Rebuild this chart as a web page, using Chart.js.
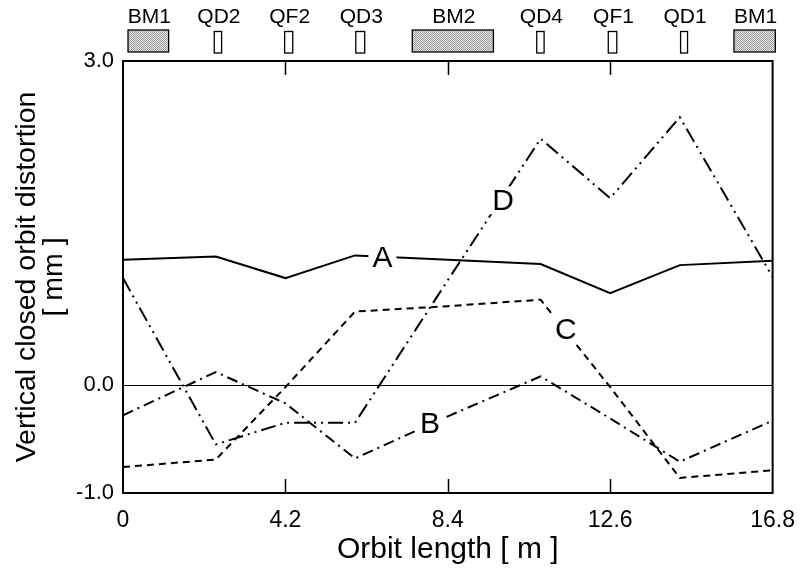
<!DOCTYPE html>
<html>
<head>
<meta charset="utf-8">
<script src="https://cdn.jsdelivr.net/npm/chart.js@4.4.0/dist/chart.umd.min.js"></script>
<style>
  html, body { margin: 0; padding: 0; background: #fff; }
  #wrap { width: 809px; height: 573px; }
</style>
</head>
<body>
<div id="wrap"><canvas id="c" width="809" height="573"></canvas></div>
<script>
// Longitudinal positions along the cell [m]
const positions = [0, 2.4, 4.2, 6.0, 8.4, 10.8, 12.6, 14.4, 16.8];

// Vertical closed orbit distortion [mm] for each case
const seriesA = [1.16, 1.19, 0.99, 1.20, 1.16, 1.12, 0.85, 1.11, 1.15];
const seriesB = [-0.28, 0.12, -0.17, -0.68, -0.29, 0.08, -0.31, -0.71, -0.33];
const seriesC = [-0.76, -0.69, -0.02, 0.68, 0.73, 0.79, -0.02, -0.86, -0.79];
const seriesD = [0.99, -0.55, -0.35, -0.35, 0.97, 2.28, 1.73, 2.48, 1.00];

// Axis ticks
const xTickValues = [0, 4.2, 8.4, 12.6, 16.8];
const xTickLabels = ['0', '4.2', '8.4', '12.6', '16.8'];
const yTickValues = [-1, 0, 3];
const yTickLabels = ['-1.0', '0.0', '3.0'];

// Lattice elements drawn above the plot (start / end in metres)
const elementNames = ['BM1', 'QD2', 'QF2', 'QD3', 'BM2', 'QD4', 'QF1', 'QD1', 'BM1'];
const elementStart = [0.13, 2.36, 4.18, 6.02, 7.48, 10.70, 12.55, 14.42, 15.80];
const elementEnd   = [1.18, 2.55, 4.39, 6.25, 9.58, 10.89, 12.77, 14.60, 16.87];
const elementKind  = ['bend', 'quad', 'quad', 'quad', 'bend', 'quad', 'quad', 'quad', 'bend'];

// Curve letters placed on the curves (data coordinates)
const curveNames = ['A', 'B', 'C', 'D'];
const curveLabelX = [6.71, 7.94, 11.45, 9.83];
const curveLabelY = [1.18, -0.355, 0.51, 1.71];

const FONT = '"Liberation Sans", Arial, Helvetica, sans-serif';
const toPoints = (vals) => positions.map((x, i) => ({ x: x, y: vals[i] }));

function makeStipple(ctx) {
  const c = document.createElement('canvas');
  c.width = 2; c.height = 2;
  const g = c.getContext('2d');
  g.fillStyle = '#e2e2e2'; g.fillRect(0, 0, 2, 2);
  g.fillStyle = '#a0a0a0'; g.fillRect(0, 0, 1, 1); g.fillRect(1, 1, 1, 1);
  return ctx.createPattern(c, 'repeat');
}

const framePlugin = {
  id: 'frame',
  afterDatasetsDraw(chart) {
    const { ctx, chartArea: a, scales } = chart;
    const xs = scales.x;
    const ys = scales.y;
    ctx.save();
    // inward tick marks on bottom and top edges
    ctx.strokeStyle = '#000';
    ctx.lineWidth = 1.5;
    xTickValues.forEach(v => {
      if (v === xs.min || v === xs.max) return;
      const px = Math.round(xs.getPixelForValue(v)) + 0.5;
      ctx.beginPath();
      ctx.moveTo(px, a.bottom); ctx.lineTo(px, a.bottom - 14);
      ctx.moveTo(px, a.top); ctx.lineTo(px, a.top + 14);
      ctx.stroke();
    });
    // plot frame
    ctx.lineWidth = 2;
    ctx.strokeRect(a.left, a.top, a.right - a.left, a.bottom - a.top);

    // curve letters with a white gap behind them
    ctx.font = '30px ' + FONT;
    ctx.textAlign = 'center';
    ctx.textBaseline = 'middle';
    curveNames.forEach((n, i) => {
      const px = xs.getPixelForValue(curveLabelX[i]);
      const py = ys.getPixelForValue(curveLabelY[i]);
      const w = ctx.measureText(n).width + 8;
      ctx.fillStyle = '#fff';
      ctx.fillRect(px - w / 2, py - 14, w, 28);
      ctx.fillStyle = '#000';
      ctx.fillText(n, px, py + 1);
    });

    // lattice elements above the frame
    const stipple = makeStipple(ctx);
    ctx.font = '21px ' + FONT;
    ctx.textBaseline = 'middle';
    elementNames.forEach((n, i) => {
      const x0 = xs.getPixelForValue(elementStart[i]);
      const x1 = xs.getPixelForValue(elementEnd[i]);
      const bend = elementKind[i] === 'bend';
      const top = bend ? 30 : 31.5;
      const h = bend ? 22 : 21.5;
      ctx.fillStyle = bend ? stipple : '#fff';
      ctx.fillRect(x0, top, x1 - x0, h);
      ctx.lineWidth = 1.3;
      ctx.strokeStyle = '#000';
      ctx.strokeRect(x0, top, x1 - x0, h);
      ctx.fillStyle = '#000';
      ctx.fillText(n, (x0 + x1) / 2 + 1, 17);
    });
    ctx.restore();
  }
};

const common = { borderColor: '#000', borderWidth: 2, pointRadius: 0, tension: 0, fill: false, borderCapStyle: 'butt', borderJoinStyle: 'miter' };

new Chart(document.getElementById('c'), {
  type: 'line',
  data: {
    datasets: [
      Object.assign({ label: 'A', data: toPoints(seriesA), borderDash: [] }, common),
      Object.assign({ label: 'B', data: toPoints(seriesB), borderDash: [11, 5, 2, 5] }, common),
      Object.assign({ label: 'C', data: toPoints(seriesC), borderDash: [7, 5] }, common),
      Object.assign({ label: 'D', data: toPoints(seriesD), borderDash: [15, 5, 2, 5, 2, 5] }, common)
    ]
  },
  options: {
    responsive: false,
    devicePixelRatio: 1,
    animation: false,
    layout: { padding: { left: 0, top: 61, right: 30, bottom: 0 } },
    plugins: { legend: { display: false }, tooltip: { enabled: false } },
    scales: {
      x: {
        type: 'linear',
        min: 0, max: 16.8,
        afterFit: s => { s.height = 80; },
        afterBuildTicks: s => { s.ticks = xTickValues.map(v => ({ value: v })); },
        ticks: {
          padding: 14,
          color: '#000',
          font: { family: FONT, size: 23 },
          maxRotation: 0,
          autoSkip: false,
          callback: (v) => { const i = xTickValues.indexOf(v); return i >= 0 ? xTickLabels[i] : ''; }
        },
        grid: { display: false, drawTicks: false },
        border: { display: false },
        title: {
          display: true,
          text: 'Orbit length [ m ]',
          color: '#000',
          font: { family: FONT, size: 30 },
          padding: { top: 0, bottom: 5 }
        }
      },
      y: {
        type: 'linear',
        min: -1, max: 3,
        afterFit: s => { s.width = 123; },
        afterBuildTicks: s => { s.ticks = yTickValues.map(v => ({ value: v })); },
        ticks: {
          padding: 9,
          color: '#000',
          font: { family: FONT, size: 22 },
          autoSkip: false,
          callback: (v) => { const i = yTickValues.indexOf(v); return i >= 0 ? yTickLabels[i] : ''; }
        },
        grid: {
          drawTicks: false,
          lineWidth: 1,
          color: (c) => (c.tick && c.tick.value === 0 ? '#000' : 'rgba(0,0,0,0)')
        },
        border: { display: false },
        title: {
          display: true,
          text: ['Vertical closed orbit distortion', '[ mm ]'],
          color: '#000',
          font: { family: FONT, size: 28.5, lineHeight: 0.95 },
          padding: { top: 14, bottom: 0 }
        }
      }
    }
  },
  plugins: [framePlugin]
});
</script>
</body>
</html>
